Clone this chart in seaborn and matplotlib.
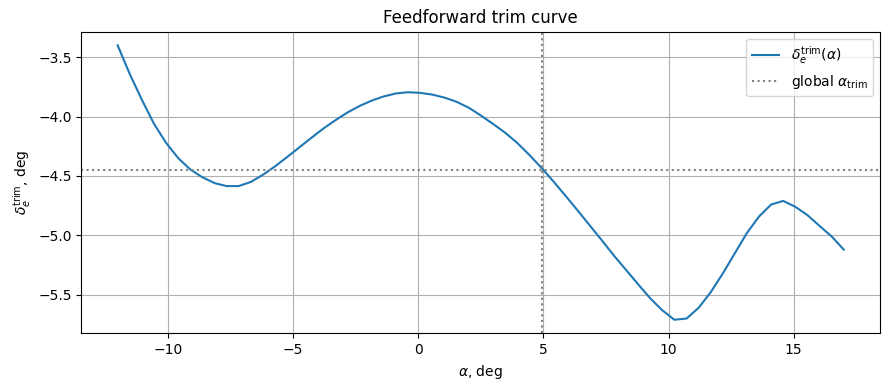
import numpy as np
import pandas as pd
import matplotlib
matplotlib.use("Agg")
import matplotlib.pyplot as plt
import seaborn as sns

# angle of attack grid, deg
alpha = [-12.00, -11.52, -11.03, -10.55, -10.07, -9.58, -9.10, -8.62, -8.13, -7.65,
         -7.17, -6.68, -6.20, -5.72, -5.23, -4.75, -4.27, -3.78, -3.30, -2.82,
         -2.33, -1.85, -1.37, -0.88, -0.40, 0.08, 0.57, 1.05, 1.53, 2.02,
         2.50, 2.98, 3.47, 3.95, 4.43, 4.92, 5.40, 5.88, 6.37, 6.85,
         7.33, 7.82, 8.30, 8.78, 9.27, 9.75, 10.23, 10.72, 11.20, 11.68,
         12.17, 12.65, 13.13, 13.62, 14.10, 14.58, 15.07, 15.55, 16.03, 16.52,
         17.00]

# elevator trim deflection, deg
delta_trim = [-3.40, -3.64, -3.86, -4.06, -4.22, -4.35, -4.445, -4.51, -4.56, -4.585,
              -4.585, -4.55, -4.49, -4.42, -4.34, -4.26, -4.18, -4.10, -4.03, -3.965,
              -3.91, -3.865, -3.83, -3.805, -3.795, -3.80, -3.815, -3.84, -3.875, -3.925,
              -3.99, -4.06, -4.135, -4.22, -4.32, -4.43, -4.545, -4.665, -4.79, -4.915,
              -5.04, -5.17, -5.29, -5.41, -5.53, -5.63, -5.71, -5.70, -5.61, -5.48,
              -5.32, -5.15, -4.98, -4.84, -4.74, -4.71, -4.76, -4.83, -4.92, -5.01,
              -5.12]

alpha_trim = 4.94
delta_global = -4.45

df = pd.DataFrame({"alpha": alpha, "delta": delta_trim})

fig, ax = plt.subplots(figsize=(8.89, 3.9), dpi=100)
sns.lineplot(data=df, x="alpha", y="delta", ax=ax,
             label=r"$\delta_e^{\rm trim}(\alpha)$")
ax.axvline(alpha_trim, color="gray", linestyle=":", label=r"global $\alpha_{\rm trim}$")
ax.axhline(delta_global, color="gray", linestyle=":")

ax.set_title("Feedforward trim curve")
ax.set_xlabel(r"$\alpha$, deg")
ax.set_ylabel(r"$\delta_e^{\rm trim}$, deg")
ax.grid(True)
ax.legend(loc="upper right")

fig.subplots_adjust(left=0.0915, right=0.990, top=0.919, bottom=0.145)
fig.savefig("out.png", dpi=100)
